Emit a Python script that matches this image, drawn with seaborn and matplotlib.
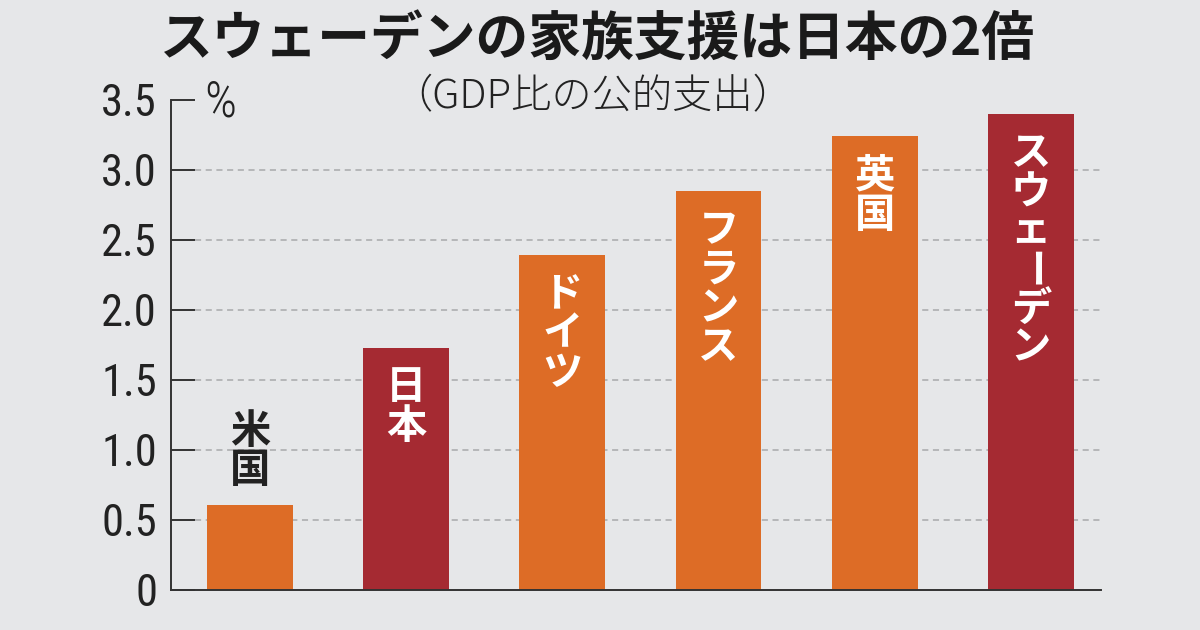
import numpy as np
import seaborn as sns
import matplotlib.pyplot as plt

# data (public family spending, % of GDP)
countries = ['米国', '日本', 'ドイツ', 'フランス', '英国', 'スウェーデン']
values = [0.61, 1.73, 2.39, 2.85, 3.24, 3.40]
bar_colors = ['#dd6c26', '#a52a32', '#dd6c26', '#dd6c26', '#dd6c26', '#a52a32']
yticks = [0, 0.5, 1.0, 1.5, 2.0, 2.5, 3.0, 3.5]
ytick_labels = ['0', '0.5', '1.0', '1.5', '2.0', '2.5', '3.0', '3.5']

BG = '#e6e7e9'
NUM_FONT = ['Roboto Condensed', 'Liberation Sans Narrow', 'Liberation Sans', 'DejaVu Sans']

sns.set_theme(style='white')
plt.rcParams['font.family'] = ['Noto Sans CJK JP', 'DejaVu Sans']

fig = plt.figure(figsize=(12, 6.3), dpi=100, facecolor=BG)
ax = fig.add_axes([0.1425, 0.0635, 0.775, 0.7778], facecolor=BG)

sns.barplot(x=countries, y=values, hue=countries, palette=bar_colors,
            legend=False, width=0.55, saturation=1, linewidth=0, ax=ax)

ax.set_xlim(-0.506, 5.45)
ax.set_ylim(0, 3.5)

# dashed grid lines, not touching the ticks
for y in yticks[1:-1]:
    ax.axhline(y, xmin=0.026, xmax=1, color='#a8a9ab', lw=1.1,
               ls=(0, (4, 3)), zorder=0)

for s in ['top', 'right']:
    ax.spines[s].set_visible(False)
for s in ['left', 'bottom']:
    ax.spines[s].set_color('#333333')
    ax.spines[s].set_linewidth(1.4)

ax.set_xticks([])
ax.set_yticks(yticks)
ax.set_yticklabels(ytick_labels, family=NUM_FONT, fontsize=32, color='#222222')
ax.tick_params(axis='y', direction='in', length=17, width=1.4,
               color='#333333', pad=10, left=True)
ax.set_xlabel('')
ax.set_ylabel('')

# vertical labels
step = 28
for i, (name, v) in enumerate(zip(countries, values)):
    inside = i > 0
    col = 'white' if inside else '#222222'
    n = len(name)
    for k, ch in enumerate(name):
        if inside:
            off = -14 - step * k
            va = 'top'
        else:
            off = 10 + step * (n - 1 - k)
            va = 'bottom'
        ax.annotate(ch, xy=(i, v), xytext=(0, off), textcoords='offset points',
                    ha='center', va=va, fontsize=29, fontweight='bold',
                    color=col, rotation=-90 if ch == 'ー' else 0)

ax.text(0.036, 0.995, '%', transform=ax.transAxes, ha='left', va='center',
        fontsize=36, color='#222222', family=NUM_FONT, fontweight='light')

fig.text(0.498, 0.937, 'スウェーデンの家族支援は日本の2倍', ha='center', va='center',
         fontsize=38, fontweight='bold', color='#1a1a1a')
fig.text(0.494, 0.846, '（GDP比の公的支出）', ha='center', va='center',
         fontsize=29, color='#222222', fontweight='light')

fig.savefig('out.png', dpi=100, facecolor=BG)
